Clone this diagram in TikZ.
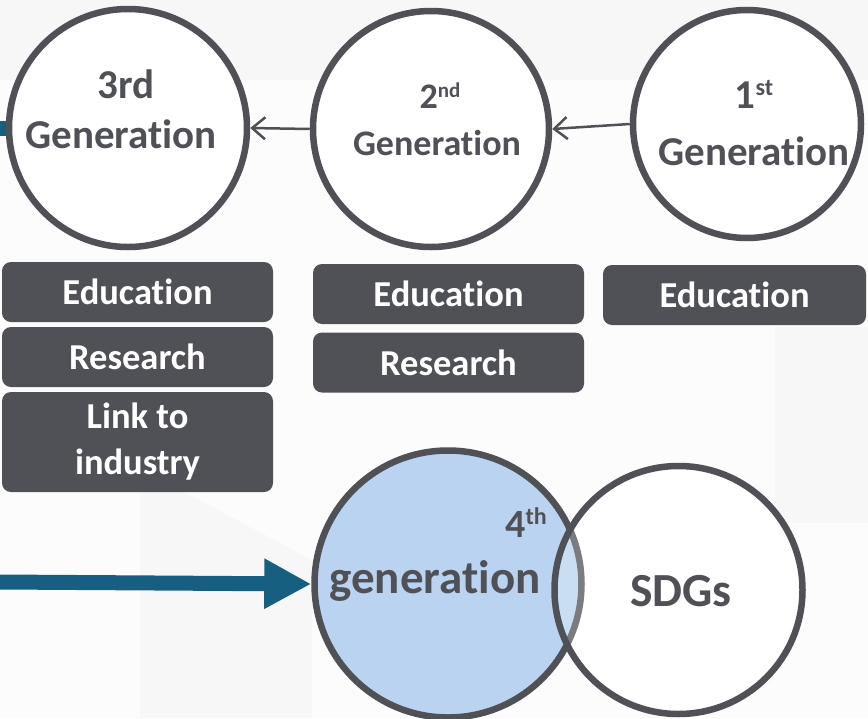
\documentclass[tikz,border=0pt]{standalone}
\usepackage{fontspec}
\setmainfont{Carlito}[Ligatures=NoCommon]
\usetikzlibrary{arrows.meta}
\definecolor{dgray}{HTML}{505157}
\definecolor{arrowblue}{HTML}{175F80}
\definecolor{lblue}{HTML}{B9D3F0}
\definecolor{bgl}{HTML}{FCFCFC}
\definecolor{bgd}{HTML}{F7F7F7}
\newcommand{\fsz}[2]{\fontsize{#1pt}{#2pt}\selectfont}
\begin{document}
\begin{tikzpicture}[x=1pt,y=-1pt,
  gen/.style={circle, draw=dgray, line width=6.5pt, fill=white, inner sep=0pt},
  box/.style={rectangle, rounded corners=9pt, fill=dgray, text=white, font=\bfseries\fsz{36.5}{46}, inner sep=0pt, align=center},
  ctext/.style={text=dgray, font=\bfseries, inner sep=0pt},
  conn/.style={dgray, line width=2.5pt, -{Straight Barb[length=13pt,width=22pt]}},
  bigarrow/.style={arrowblue, line width=15pt}
]
\useasboundingbox (0,0) rectangle (868,718);
% background
\fill[bgl] (0,0) rectangle (868,718);
\fill[bgd] (0,0) rectangle (868,80);
\fill[bgd] (140,490) -- (180,490) -- (312,560) -- (312,718) -- (140,718) -- cycle;
\fill[bgd] (775,327) rectangle (868,523);

% blue line into 3rd generation
\coordinate (c3) at (128,128);
\coordinate (bl3) at (0,128);
\draw[bigarrow] (bl3) -- (c3);

% generation circles
\node[gen, minimum size=238pt] (g3) at (c3) {};
\node[gen, minimum size=236pt] (g2) at (431,129) {};
\node[gen, minimum size=228pt] (g1) at (747,124) {};

\draw[conn] (g2.west) -- (g3.east);
\draw[conn] (g1.west) -- (g2.east);

% circle texts
\node[ctext, anchor=base] (t3a) at (126,98) {\fsz{41}{45}3rd};
\node[ctext, anchor=base] (t3b) at (121,148) {\fsz{41}{45}Generation};
\node[ctext, anchor=base] (t2a) at (440,108) {\fsz{36}{40}2\raisebox{11pt}{\fsz{21}{24}nd}};
\node[ctext, anchor=base] (t2b) at (437,155) {\fsz{36}{40}Generation};
\node[ctext, anchor=base] (t1a) at (754,108) {\fsz{41}{45}1\raisebox{13pt}{\fsz{24}{28}st}};
\node[ctext, anchor=base] (t1b) at (754,165) {\fsz{41}{45}Generation};

% boxes
\node[box, minimum width=271pt, minimum height=60pt] (e3) at (137.5,292) {Education};
\node[box, minimum width=271pt, minimum height=60pt] (r3) at (137.5,357) {Research};
\node[box, minimum width=271pt, minimum height=100pt] (l3) at (137.5,442) {Link to\\industry};
\node[box, minimum width=271pt, minimum height=60pt] (e2) at (448.5,294) {Education};
\node[box, minimum width=271pt, minimum height=60pt] (r2) at (448.5,362.5) {Research};
\node[box, minimum width=263pt, minimum height=60pt] (e1) at (734.5,295) {Education};

% Venn
\node[circle, fill=white, minimum size=248pt, inner sep=0pt] (sdgbg) at (678.5,590) {};
\node[gen, fill=lblue, minimum size=267pt] (g4) at (448,584) {};
\node[gen, fill=white, fill opacity=0.25, draw opacity=1, minimum size=248pt] (sdg) at (678.5,590) {};

\coordinate (bl4) at (0,582);
\draw[bigarrow, -{Triangle[length=47pt,width=47pt]}] (bl4) -- (g4.west);

\node[ctext, anchor=base] (t4a) at (526,537) {\fsz{40}{44}4\raisebox{13pt}{\fsz{24}{28}th}};
\node[ctext, anchor=base] (t4b) at (435,593) {\fsz{47}{52}generation};
\node[ctext, anchor=base] (tsdg) at (681,606) {\fsz{47.5}{52}SDGs};
\end{tikzpicture}
\end{document}
